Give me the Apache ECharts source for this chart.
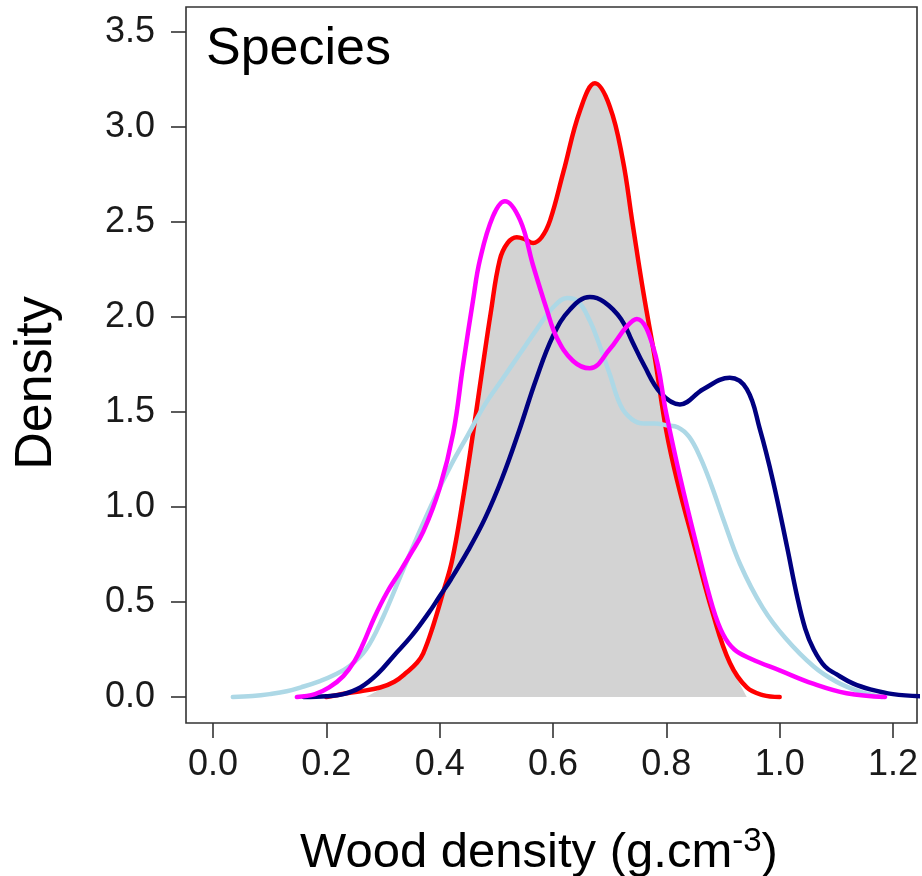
<!DOCTYPE html>
<html>
<head>
<meta charset="utf-8">
<script src="https://cdn.jsdelivr.net/npm/echarts@6/dist/echarts.min.js"></script>
<style>
html,body{margin:0;padding:0;background:#fff;}
#chart{width:922px;height:876px;}
</style>
</head>
<body>
<div id="chart"></div>
<script>
// Tick values
const xTicks = [0.0, 0.2, 0.4, 0.6, 0.8, 1.0, 1.2];
const yTicks = [0.0, 0.5, 1.0, 1.5, 2.0, 2.5, 3.0, 3.5];

// Gray filled density
const grayX = [0.27,0.30,0.342,0.36,0.371,0.388,0.406,0.422,0.441,0.459,0.476,0.49,0.506,0.52,0.536,0.55,0.565,0.58,0.595,0.618,0.648,0.674,0.70,0.723,0.74,0.76,0.78,0.80,0.819,0.85,0.882,0.912,0.942];
const grayY = [0,0.05,0.13,0.18,0.23,0.37,0.55,0.72,1.04,1.39,1.74,2.02,2.30,2.39,2.42,2.41,2.39,2.42,2.51,2.76,3.09,3.23,3.11,2.83,2.50,2.12,1.78,1.40,1.14,0.79,0.44,0.18,0];

// Red density
const redX = [0.20,0.236,0.26,0.295,0.32,0.342,0.36,0.371,0.388,0.406,0.422,0.441,0.459,0.476,0.49,0.506,0.52,0.536,0.55,0.565,0.58,0.595,0.618,0.648,0.674,0.70,0.723,0.74,0.76,0.78,0.80,0.819,0.85,0.882,0.912,0.942,0.97,1.0];
const redY = [0,0.02,0.03,0.05,0.08,0.13,0.18,0.23,0.37,0.55,0.72,1.04,1.39,1.74,2.02,2.30,2.39,2.42,2.41,2.39,2.42,2.51,2.76,3.09,3.23,3.11,2.83,2.50,2.12,1.78,1.40,1.14,0.79,0.44,0.18,0.05,0.01,0];

// Light blue density
const lbX = [0.035,0.07,0.10,0.13,0.16,0.19,0.21,0.24,0.27,0.30,0.33,0.36,0.39,0.42,0.45,0.48,0.51,0.54,0.57,0.60,0.625,0.645,0.665,0.68,0.70,0.72,0.74,0.76,0.78,0.80,0.82,0.84,0.86,0.88,0.90,0.93,0.97,1.01,1.06,1.10,1.14,1.18];
const lbY = [0,0.005,0.015,0.03,0.055,0.085,0.11,0.16,0.25,0.42,0.63,0.84,1.04,1.22,1.38,1.54,1.67,1.80,1.93,2.05,2.10,2.08,1.98,1.87,1.70,1.53,1.46,1.44,1.44,1.43,1.42,1.37,1.26,1.11,0.94,0.70,0.47,0.31,0.16,0.08,0.03,0];

// Navy density
const navX = [0.16,0.20,0.23,0.26,0.29,0.32,0.35,0.38,0.40,0.42,0.45,0.48,0.51,0.54,0.57,0.60,0.63,0.665,0.69,0.72,0.74,0.76,0.79,0.824,0.865,0.912,0.942,0.965,0.988,1.013,1.03,1.045,1.06,1.08,1.10,1.13,1.16,1.2,1.25];
const navY = [0,0.004,0.015,0.05,0.12,0.22,0.32,0.44,0.53,0.62,0.77,0.94,1.15,1.40,1.67,1.90,2.04,2.105,2.08,1.99,1.87,1.75,1.60,1.54,1.62,1.68,1.62,1.41,1.14,0.79,0.54,0.36,0.25,0.16,0.12,0.07,0.04,0.015,0.003];

// Magenta density
const magX = [0.148,0.18,0.205,0.23,0.25,0.265,0.285,0.307,0.33,0.348,0.371,0.40,0.424,0.441,0.459,0.471,0.494,0.515,0.542,0.565,0.589,0.607,0.635,0.665,0.70,0.73,0.748,0.777,0.80,0.824,0.854,0.882,0.90,0.92,0.95,1.0,1.059,1.118,1.186];
const magY = [0,0.015,0.05,0.11,0.19,0.28,0.42,0.55,0.66,0.75,0.87,1.10,1.39,1.74,2.09,2.30,2.53,2.61,2.51,2.27,2.04,1.89,1.77,1.73,1.83,1.95,1.99,1.84,1.49,1.16,0.79,0.47,0.33,0.25,0.20,0.14,0.07,0.02,0];

function zip(xs, ys){ return xs.map((x,i)=>[x, ys[i]]); }

const FONT = '"Liberation Sans", Arial, Helvetica, sans-serif';
const chart = echarts.init(document.getElementById('chart'), null, {renderer:'canvas'});

function lineSeries(name, xs, ys, color){
  return {
    name, type:'line', data: zip(xs, ys), smooth: 0.4, showSymbol:false, symbol:'none',
    lineStyle:{color, width:4.5, cap:'round', join:'round'}, animation:false, clip:true
  };
}

chart.setOption({
  animation:false,
  backgroundColor:'#ffffff',
  grid:{left:186, right:5, top:7, bottom:153, show:true, borderColor:'#333', borderWidth:1.6, backgroundColor:'transparent'},
  xAxis:{
    type:'value', min:-0.0476, max:1.2423,
    axisLine:{show:false, onZero:false},
    splitLine:{show:false},
    axisTick:{show:true, inside:false, length:15, customValues:xTicks, lineStyle:{color:'#333', width:1.6}},
    axisLabel:{show:true, customValues:xTicks, margin:24, fontSize:36, fontFamily:FONT, color:'#1a1a1a',
      formatter:(v)=>v.toFixed(1)}
  },
  yAxis:{
    type:'value', min:-0.137, max:3.632,
    axisLine:{show:false, onZero:false},
    splitLine:{show:false},
    axisTick:{show:true, inside:false, length:15, customValues:yTicks, lineStyle:{color:'#333', width:1.6}},
    axisLabel:{show:true, customValues:yTicks, margin:31, fontSize:36, fontFamily:FONT, color:'#1a1a1a',
      formatter:(v)=>v.toFixed(1)}
  },
  series:[
    {name:'gray', type:'line', data: zip(grayX, grayY), smooth:0.4, showSymbol:false, symbol:'none',
      lineStyle:{width:0, opacity:0}, areaStyle:{color:'#d3d3d3', opacity:1}, animation:false},
    lineSeries('red', redX, redY, '#ff0000'),
    lineSeries('lightblue', lbX, lbY, '#add8e6'),
    lineSeries('navy', navX, navY, '#000080'),
    lineSeries('magenta', magX, magY, '#ff00ff')
  ],
  graphic:[
    {type:'text', x:206, y:50, style:{text:'Species', fontSize:52, fontFamily:FONT, fill:'#000', align:'left', verticalAlign:'middle'}},
    {type:'text', x:37, y:383, rotation:Math.PI/2, style:{text:'Density', fontSize:52, fontFamily:FONT, fill:'#000', align:'center', verticalAlign:'middle'}},
    {type:'text', x:539, y:853, style:{text:'Wood density (g.cm{sup|-3})', fontSize:49, fontFamily:FONT, fill:'#000', align:'center', verticalAlign:'middle',
      rich:{sup:{fontSize:33, fontFamily:FONT, fill:'#000', verticalAlign:'top', lineHeight:56}}}}
  ]
});
</script>
</body>
</html>
